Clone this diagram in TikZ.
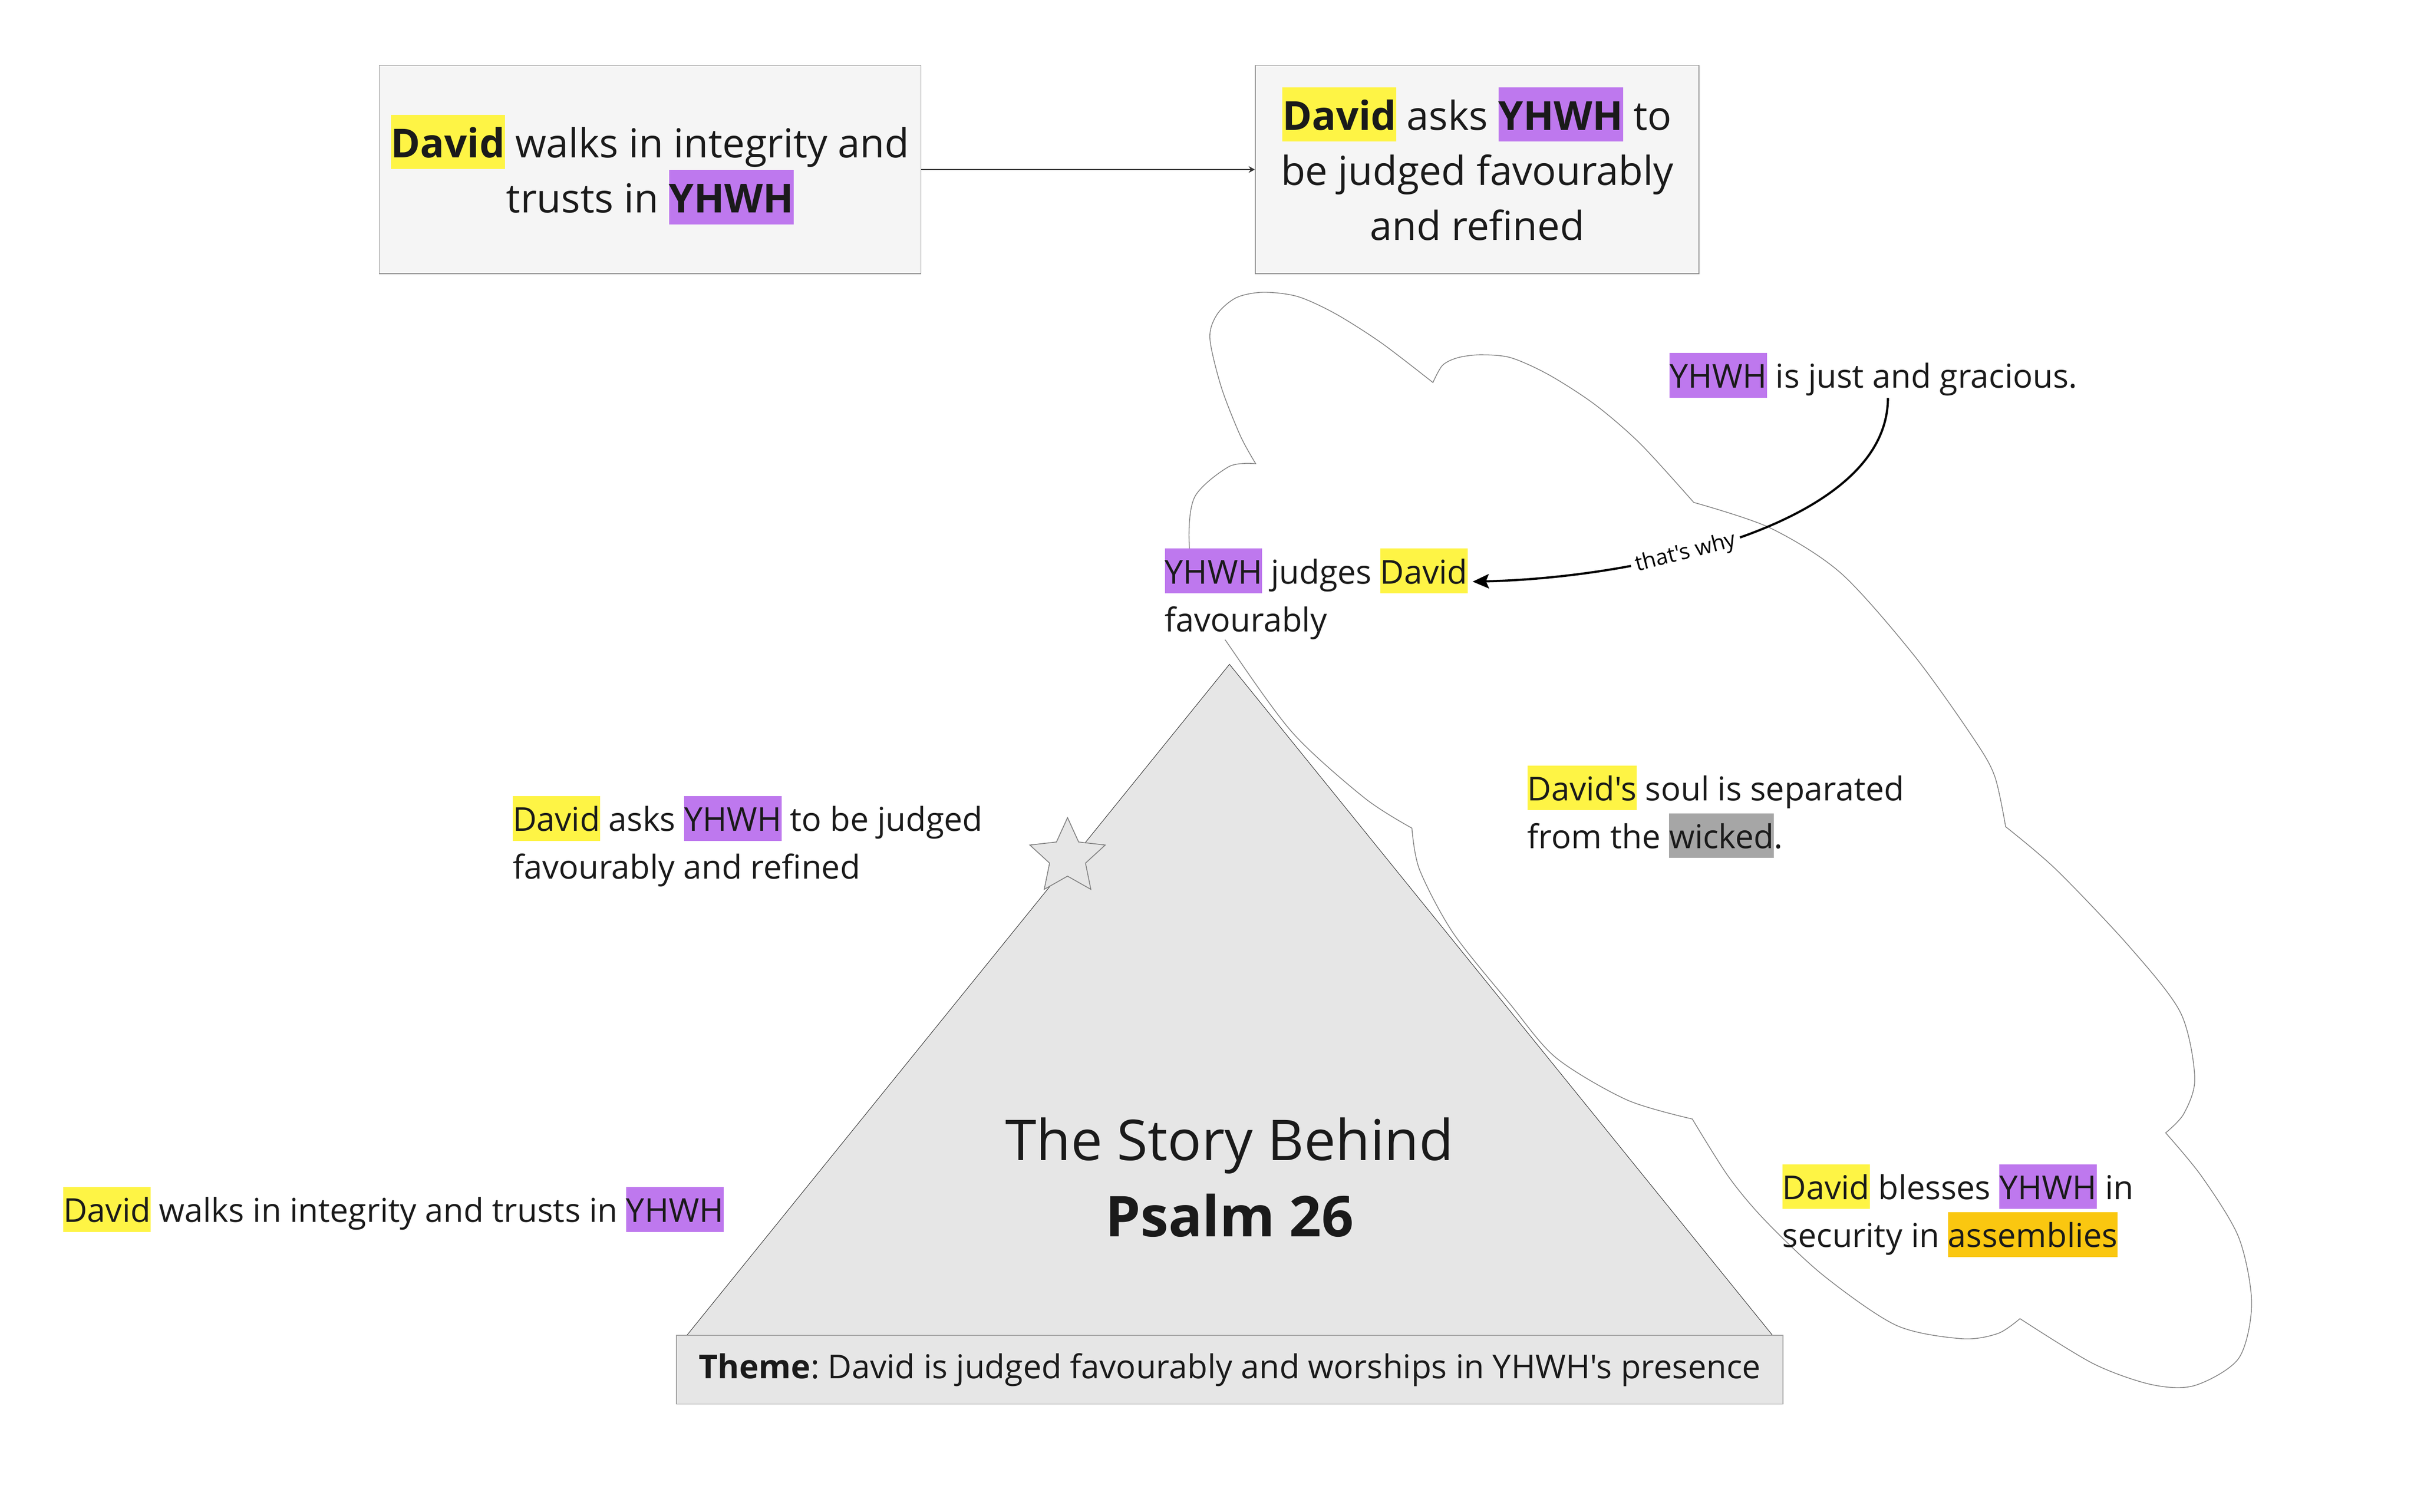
\documentclass[tikz,border=0pt]{standalone}
\usepackage{fontspec}
\newfontfamily\opensans{Open Sans}
\usetikzlibrary{arrows.meta,shapes.geometric}
\definecolor{ink}{HTML}{1A1A1A}
\definecolor{hlyellow}{HTML}{FEF445}
\definecolor{hlpurple}{HTML}{BE78EE}
\definecolor{hlorange}{HTML}{FAC710}
\definecolor{hlgray}{HTML}{A6A6A6}
\definecolor{cardfill}{HTML}{F5F5F5}
\definecolor{cardline}{HTML}{8C8C8C}
\definecolor{peakfill}{HTML}{E6E6E6}
\definecolor{peakline}{HTML}{333333}
\definecolor{cloudline}{HTML}{808080}
\definecolor{themeline}{HTML}{A0A0A0}
\newcommand{\hilite}[2]{{\setlength{\fboxsep}{0pt}\colorbox{#1}{\rule[-0.293em]{0pt}{1.362em}#2}}}
\newcommand{\linestrut}{\rule[-0.293em]{0pt}{1.362em}}
\frenchspacing
\begin{document}
\begin{tikzpicture}[
	card/.style={draw=cardline, fill=cardfill, line width=0.45pt, align=center, text=ink, minimum height=4.36cm, inner sep=0pt, font=\opensans\fontsize{23.8}{32.8}\selectfont},
	note/.style={anchor=north west, align=left, inner sep=0pt, text=ink, font=\opensans\fontsize{19.6}{28.5}\selectfont},
	title/.style={anchor=base, text=ink, inner sep=0pt, font=\opensans\fontsize{33.5}{40}\selectfont},
	themebox/.style={draw=themeline, fill=peakfill, line width=0.45pt, text=ink, inner sep=0pt, font=\opensans\fontsize{19.6}{28.5}\selectfont},
	cloudy/.style={draw=cloudline, fill=white, line width=0.45pt},
	peak/.style={draw=peakline, fill=peakfill, line width=0.3pt},
	flow/.style={draw=peakline, line width=0.4pt, -{Stealth[length=0.13cm, width=0.14cm]}},
	reason/.style={draw=black, line width=1.3pt, -{Stealth[length=0.34cm, width=0.3cm, inset=0.06cm]}}
]
	\fill[white] (0,0) rectangle (50.54,31.65);
	\useasboundingbox (0,0) rectangle (50.54,31.65);
	% Story boxes
	\node[card, minimum width=11.34cm] (walkbox) at (13.61,28.10) {\hilite{hlyellow}{\textbf{David}} walks in integrity and\\ trusts in \hilite{hlpurple}{\textbf{YHWH}}};
	\node[card, minimum width=9.29cm] (askbox) at (30.925,28.10) {\hilite{hlyellow}{\textbf{David}} asks \hilite{hlpurple}{\textbf{YHWH}} to\\ be judged favourably\\ and refined\linestrut};
	\draw[flow] (walkbox) -- (askbox);
	% Cloud
	\draw[cloudy] plot[smooth] coordinates {(26.29,21.94) (25.97,22.52) (25.57,23.54) (25.33,24.57) (25.49,25.08) (25.89,25.42) (26.45,25.53) (27.17,25.44) (27.96,25.08) (28.92,24.47) (30.00,23.64)}
		-- plot[smooth] coordinates {(30.00,23.64) (30.20,24.00) (30.52,24.16) (30.99,24.22) (31.63,24.16) (32.43,23.80) (33.39,23.18) (34.34,22.36) (35.46,21.13)}
		-- plot[smooth] coordinates {(35.46,21.13) (37.05,20.60) (38.54,19.65) (40.07,17.93) (41.31,16.20) (41.76,15.40) (41.99,14.34)}
		-- plot[smooth] coordinates {(41.99,14.34) (43.05,13.44) (44.58,11.83) (45.65,10.45) (45.95,9.08) (45.72,8.33) (45.34,7.93)}
		-- plot[smooth] coordinates {(45.34,7.93) (46.10,7.01) (46.87,5.74) (47.14,4.36) (46.87,3.21) (45.95,2.64) (45.04,2.66) (43.82,3.10) (42.29,4.04)}
		-- plot[smooth] coordinates {(42.29,4.04) (41.83,3.73) (41.07,3.62) (39.70,3.90) (38.18,4.94) (36.96,6.09) (36.19,7.01) (35.43,8.22)}
		-- plot[smooth] coordinates {(35.43,8.22) (34.06,8.62) (32.58,9.50) (31.62,10.62) (30.42,12.12) (29.72,13.44) (29.56,14.31)}
		-- plot[smooth] coordinates {(29.56,14.31) (28.57,14.94) (27.05,16.32) (25.68,18.21) (25.15,19.05) (24.90,20.21) (25.01,21.24) (25.73,21.88) (26.29,21.94)}
		-- cycle;
	% Peak
	\coordinate (apex) at (25.74,17.74);
	\coordinate (baseL) at (14.38,3.69);
	\coordinate (baseR) at (37.11,3.69);
	\draw[peak] (apex) -- (baseL) -- (baseR) -- cycle;
	\node[star, star points=5, star point ratio=2.1, minimum size=1.66cm, inner sep=0pt, draw=cloudline, fill=peakfill, line width=0.5pt] (climax) at (22.35,13.70) {};
	% Title
	\node[title] (storyT) at (25.74,7.36) {The Story Behind};
	\node[title, font=\opensans\fontsize{33.5}{40}\selectfont\bfseries] (psalmT) at ([yshift=-1.6cm]storyT.base) {Psalm 26};
	\node[themebox, minimum width=23.17cm, minimum height=1.44cm] (themeT) at (25.745,2.97) {\textbf{Theme}: David is judged favourably and worships in YHWH's presence};
	% Notes
	\node[note] (asksT) at (10.73,14.99) {\hilite{hlyellow}{David} asks \hilite{hlpurple}{YHWH} to be judged\\ favourably and refined};
	\node[note] (walksT) at (1.32,6.80) {\hilite{hlyellow}{David} walks in integrity and trusts in \hilite{hlpurple}{YHWH}};
	\node[note, fill=white] (judgesT) at (24.38,20.17) {\hilite{hlpurple}{YHWH} judges \hilite{hlyellow}{David}\\ favourably};
	\node[note] (justT) at (34.95,24.27) {\hilite{hlpurple}{YHWH} is just and gracious.};
	\node[note] (soulT) at (31.97,15.63) {\hilite{hlyellow}{David's} soul is separated\\ from the \hilite{hlgray}{wicked}.};
	\node[note] (blessT) at (37.31,7.28) {\hilite{hlyellow}{David} blesses \hilite{hlpurple}{YHWH} in\\ security in \hilite{hlorange}{assemblies}};
	% that's why
	\draw[reason] ([xshift=0.3cm]justT.south) .. controls +(0,-2.65) and +(3.51,0.08) .. ([xshift=0.1cm,yshift=0.26cm]judgesT.east)
		node[pos=0.61, sloped, fill=white, inner sep=0.1cm, text=black, font=\opensans\fontsize{13}{15}\selectfont] {that's why};
\end{tikzpicture}
\end{document}
